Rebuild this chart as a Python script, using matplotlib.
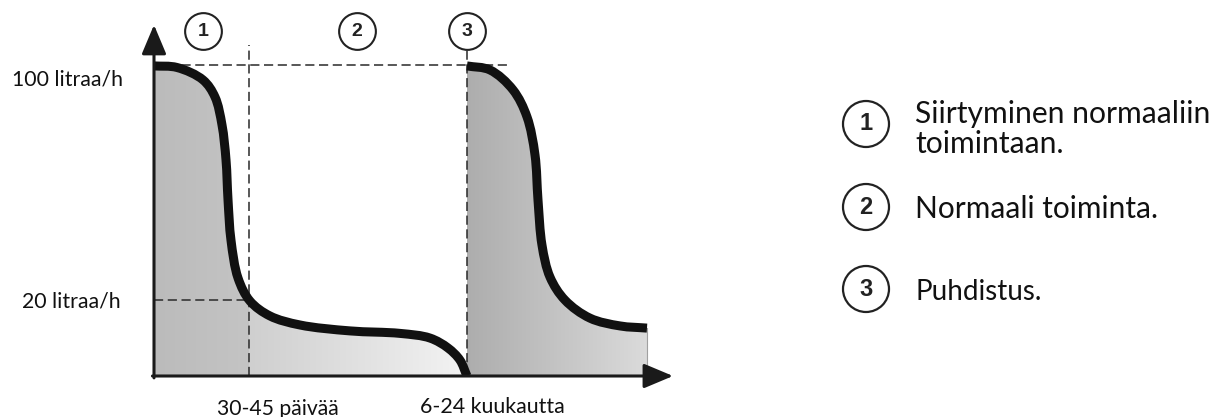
import numpy as np
import matplotlib
matplotlib.use("Agg")
import matplotlib.pyplot as plt
from matplotlib.patches import PathPatch, Ellipse
from matplotlib.path import Path
from matplotlib.colors import LinearSegmentedColormap

# ---------------- data (schematic units: x = time, y = flow, 100 = 100 l/h) ----------------
curve1_x = [0.0, 4.44, 9.46, 11.78, 13.13, 13.90, 14.29, 14.86, 16.22, 18.53, 22.39,
            28.19, 37.84, 47.49, 53.28, 56.76, 59.07, 60.42]
curve1_y = [99.7, 99.2, 95.2, 89.7, 80.7, 69.5, 56.6, 43.7, 31.5, 24.1, 19.3,
            16.4, 14.5, 13.7, 12.2, 9.0, 5.1, 0.0]
curve3_x = [60.42, 64.86, 69.31, 72.01, 73.55, 74.13, 74.90, 76.45, 79.34, 84.17, 89.96, 95.17]
curve3_y = [99.7, 98.4, 92.0, 83.3, 71.1, 56.6, 42.1, 31.8, 24.4, 18.6, 16.1, 15.4]

phase_bounds = [18.3, 60.42]          # end of phase 1, start of cleaning
top_level = 100.0
low_level = 24.4                      # drawn height of "20 litraa/h"
flow_labels = ["100 litraa/h", "20 litraa/h"]
time_labels = ["30-45 päivää", "6-24 kuukautta"]
phase_numbers = ["1", "2", "3"]
phase_number_x = [9.46, 39.2, 60.42]
legend_texts = [["Siirtyminen normaaliin", "toimintaan."], ["Normaali toiminta."], ["Puhdistus."]]

# ---------------- figure ----------------
W, H = 1211, 417
fig = plt.figure(figsize=(W / 100, H / 100), dpi=100)
x0px, y0px, x1px, y1px = 154, 376, 672, 28
ax = fig.add_axes([x0px / W, (H - y0px) / H, (x1px - x0px) / W, (y0px - y1px) / H])
XMAX = 100.0
YMAX = (y0px - y1px) / 3.11
ax.set_axis_off()


def px(x, y):
    return (x / W, 1 - y / H)


def smooth_path(xs, ys):
    """Smooth curve through the given points (centripetal Catmull-Rom as cubic Beziers),
    computed in display-like units so the shape is isotropic."""
    sx, sy = 5.18, 3.11
    P = np.column_stack([np.asarray(xs) * sx, np.asarray(ys) * sy]).astype(float)
    n = len(P)
    verts = [P[0]]
    codes = [Path.MOVETO]
    for i in range(n - 1):
        p1, p2 = P[i], P[i + 1]
        p0 = P[i - 1] if i > 0 else 2 * p1 - p2
        p3 = P[i + 2] if i + 2 < n else 2 * p2 - p1
        d1 = np.linalg.norm(p1 - p0) ** 0.5
        d2 = np.linalg.norm(p2 - p1) ** 0.5
        d3 = np.linalg.norm(p3 - p2) ** 0.5
        m1 = (p1 - p0) / d1 - (p2 - p0) / (d1 + d2) + (p2 - p1) / d2
        m2 = (p2 - p1) / d2 - (p3 - p1) / (d2 + d3) + (p3 - p2) / d3
        m1 *= d2
        m2 *= d2
        verts += [p1 + m1 / 3.0, p2 - m2 / 3.0, p2]
        codes += [Path.CURVE4] * 3
    verts = [np.array([v[0] / sx, v[1] / sy]) for v in verts]
    return verts, codes


def region_patch(xs, ys):
    v, c = smooth_path(xs, ys)
    v = v + [np.array([xs[-1], 0.0]), np.array([xs[0], 0.0]), np.array([xs[0], 0.0])]
    c = c + [Path.LINETO, Path.LINETO, Path.CLOSEPOLY]
    pp = PathPatch(Path(v, c), fc="none", ec="none")
    ax.add_patch(pp)
    return pp


def grad_fill(patch, xa, xb, c0, c1):
    cmap = LinearSegmentedColormap.from_list("g", [c0, c1])
    g = np.linspace(0, 1, 256).reshape(1, -1)
    im = ax.imshow(g, extent=[xa, xb, 0, YMAX], aspect="auto", cmap=cmap,
                   origin="lower", zorder=1, interpolation="bilinear")
    im.set_clip_path(patch)


p1 = region_patch(curve1_x, curve1_y)
p3 = region_patch(curve3_x, curve3_y)
grad_fill(p1, 0, phase_bounds[0], "#bbbbbb", "#c4c4c4")
grad_fill(p1, phase_bounds[0], phase_bounds[1], "#cfcfcf", "#f3f3f3")
grad_fill(p3, phase_bounds[1], curve3_x[-1], "#adadad", "#dbdbdb")
ax.plot([curve3_x[-1]] * 2, [0, curve3_y[-1]], color="#a0a0a0", lw=0.8, zorder=2)

# dashed guides
dk = dict(color="#2a2a2a", lw=1.1, ls=(0, (6, 3)), zorder=3)
ax.plot([0, 68.7], [top_level, top_level], **dk)
ax.plot([0, phase_bounds[0]], [low_level, low_level], **dk)
ax.plot([phase_bounds[0]] * 2, [0, 106.4], **dk)
ax.plot([phase_bounds[1]] * 2, [0, 104.8], **dk)

# curves
for xs, ys in [(curve1_x, curve1_y), (curve3_x, curve3_y)]:
    v, c = smooth_path(xs, ys)
    ax.add_patch(PathPatch(Path(v, c), fc="none", ec="#111111", lw=6.5,
                           capstyle="butt", joinstyle="round", zorder=5))

# axes with arrows
ax.set_xlim(0, XMAX)
ax.set_ylim(0, YMAX)
arr = dict(arrowstyle="-|>,head_length=1.0,head_width=0.42", lw=2.2, color="#1a1a1a",
           mutation_scale=18, shrinkA=0, shrinkB=0)
ax.annotate("", xy=(0, YMAX + 1), xytext=(0, -0.6), arrowprops=arr, annotation_clip=False, zorder=6)
ax.annotate("", xy=(XMAX + 0.2, 0), xytext=(-0.3, 0), arrowprops=arr, annotation_clip=False, zorder=6)

# phase circles on top
for n, xv in zip(phase_numbers, phase_number_x):
    ax.scatter([xv], [110.9], s=700, facecolor="white", edgecolor="#222222", lw=1.5,
               zorder=7, clip_on=False)
    ax.text(xv, 110.9, n, ha="center", va="center", fontsize=14, fontweight="bold",
            family="Liberation Sans", color="#222222", zorder=8, clip_on=False)

# text labels
renderer = fig.canvas.get_renderer()


def fit(t, width):
    w = t.get_window_extent(renderer).width
    t.set_fontsize(t.get_fontsize() * width / w)


FONT = "Lato"
labs = [
    (flow_labels[0], (123, 86), "right", 111),
    (flow_labels[1], (121, 307), "right", 99),
    (time_labels[0], (278, 415), "center", 123),
    (time_labels[1], (492, 413), "center", 145),
]
for s, (x, y), ha, w in labs:
    t = fig.text(*px(x, y), s, ha=ha, va="baseline", fontsize=14, family=FONT, color="#111111")
    fit(t, w)

# legend on the right
leg_circle_y = [124, 207, 289]
leg_base = [[123, 153], [218], [300]]
leg_w = [[295, 150], [243], [126]]
for i in range(3):
    fig.patches.append(Ellipse(px(866, leg_circle_y[i]), 46 / W, 46 / H,
                               transform=fig.transFigure, fc="white", ec="#222222", lw=1.6))
    fig.text(*px(866, leg_circle_y[i]), phase_numbers[i], ha="center", va="center",
             fontsize=17, fontweight="bold", family="Liberation Sans", color="#222222")
    for j, s in enumerate(legend_texts[i]):
        t = fig.text(*px(915, leg_base[i][j]), s, ha="left", va="baseline", fontsize=20,
                     family=FONT, color="#111111")
        if j == 0:
            fit(t, leg_w[i][j])
            fs = t.get_fontsize()
        else:
            t.set_fontsize(fs)

fig.savefig("out.png", dpi=100)
